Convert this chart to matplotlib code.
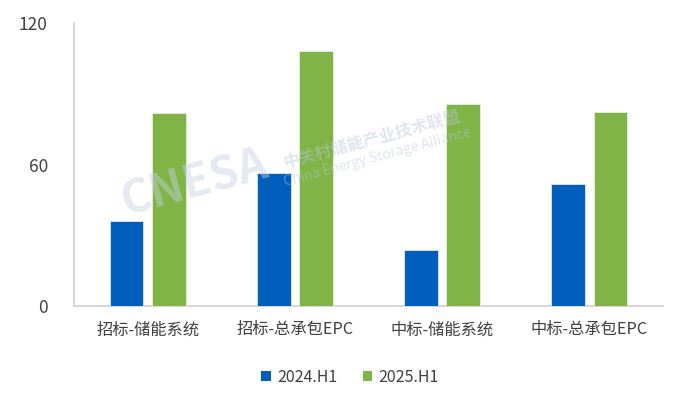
import numpy as np
import matplotlib.pyplot as plt
from matplotlib.patches import Patch

plt.rcParams["font.family"] = ["Noto Sans CJK SC", "DejaVu Sans"]

categories = ["招标-储能系统", "招标-总承包EPC", "中标-储能系统", "中标-总承包EPC"]
series_names = ["2024.H1", "2025.H1"]
values_2024 = [36.0, 56.4, 23.7, 51.6]
values_2025 = [82.0, 108.1, 85.7, 82.4]
yticks = [0, 60, 120]

BLUE = "#005EBD"
GREEN = "#80B446"
TEXT = "#404040"

fig = plt.figure(figsize=(7, 4), dpi=100)
ax = fig.add_axes([0.106, 0.235, 0.841, 0.7075])

x = np.arange(len(categories))
w = 0.229
off = 0.144
ax.bar(x - off, values_2024, width=w, color=BLUE, edgecolor="#dfe9f5", linewidth=0.6, zorder=3)
ax.bar(x + off, values_2025, width=w, color=GREEN, edgecolor="#e6f0dc", linewidth=0.6, zorder=3)

ax.set_xlim(-0.5, len(categories) - 0.5)
ax.set_ylim(0, 120)
ax.set_yticks(yticks)
ax.set_yticklabels([str(t) for t in yticks], fontsize=12.5, color=TEXT)
ax.set_xticks(x)
ax.set_xticklabels(categories, fontsize=11.7, color=TEXT)
ax.tick_params(axis="y", length=0, pad=19)
ax.tick_params(axis="x", length=0, pad=11)

for s in ["top", "right"]:
    ax.spines[s].set_visible(False)
for s in ["left", "bottom"]:
    ax.spines[s].set_color("#d0d0d0")
    ax.spines[s].set_linewidth(1.2)

# watermark: translucent, lies over the bars
wm = "#b9c8dc"
ax.text(0.278, 0.542, "CNESA", transform=fig.transFigure, fontsize=33, fontweight="bold",
        color="#c6d2e2", alpha=0.45, rotation=15, ha="center", va="center", zorder=5)
ax.text(0.531, 0.65, "中关村储能产业技术联盟", transform=fig.transFigure, fontsize=12,
        fontweight="bold", color=wm, alpha=0.45, rotation=15, ha="center", va="center", zorder=5)
ax.text(0.54, 0.607, "China Energy Storage Alliance", transform=fig.transFigure, fontsize=10,
        color=wm, alpha=0.45, rotation=15, ha="center", va="center", zorder=5)

handles = [Patch(facecolor=BLUE, label=series_names[0]),
           Patch(facecolor=GREEN, label=series_names[1])]
fig.legend(handles=handles, loc="center", bbox_to_anchor=(0.5, 0.057), ncol=2,
           frameon=False, fontsize=11.5, handlelength=0.6, handleheight=0.6,
           handletextpad=0.4, columnspacing=1.6, labelcolor=TEXT)

fig.savefig("out.png", dpi=100)
